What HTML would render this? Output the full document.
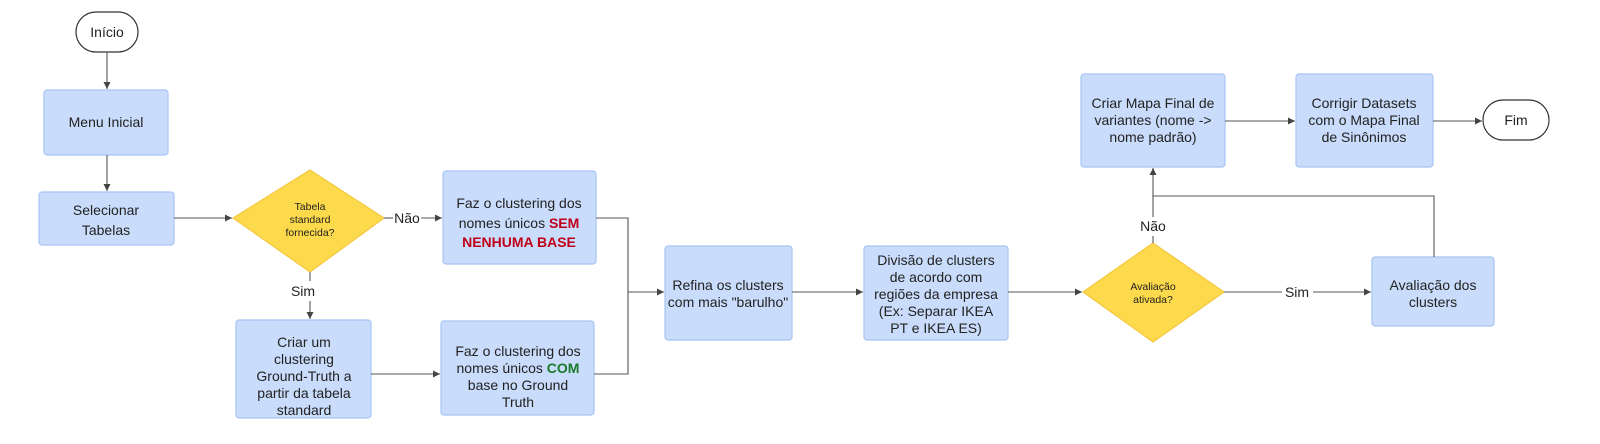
<!DOCTYPE html>
<html><head><meta charset="utf-8"><style>
body{margin:0;background:#fff;width:1600px;height:439px;overflow:hidden;font-family:"Liberation Sans",sans-serif;}
</style></head><body>
<svg width="1600" height="439" viewBox="0 0 1600 439" xmlns="http://www.w3.org/2000/svg" font-family="Liberation Sans, sans-serif" font-size="14" fill="#222">
<defs><marker id="a" markerWidth="8" markerHeight="8" refX="7" refY="4" orient="auto" markerUnits="userSpaceOnUse"><path d="M0,0.5 L7,4 L0,7.5 z" fill="#444"/></marker></defs>
<g fill="#c9dcfb" stroke="#a8c4f3" stroke-width="1.2">
<rect x="44" y="90" width="124" height="65" rx="3"/>
<rect x="39" y="192" width="135" height="53" rx="3"/>
<rect x="443" y="171" width="153" height="93" rx="3"/>
<rect x="236" y="320" width="135" height="98" rx="3"/>
<rect x="441" y="321" width="153" height="94" rx="3"/>
<rect x="665" y="246" width="127" height="94" rx="3"/>
<rect x="864" y="246" width="144" height="94" rx="3"/>
<rect x="1372" y="257" width="122" height="69" rx="3"/>
<rect x="1081" y="74" width="144" height="93" rx="3"/>
<rect x="1296" y="74" width="137" height="93" rx="3"/>
</g>
<g fill="#fdd94c" stroke="#f5c842" stroke-width="1.2">
<polygon points="310,170 384,218 310,272 233,218"/>
<polygon points="1153,243 1224,292 1153,342 1083,292"/>
</g>
<g fill="#fff" stroke="#333" stroke-width="1.2">
<rect x="76" y="12" width="62" height="40" rx="20"/>
<rect x="1483" y="100" width="66" height="40" rx="20"/>
</g>
<g stroke="#555" stroke-width="1.1" fill="none">
<line x1="107" y1="52" x2="107" y2="89" marker-end="url(#a)"/>
<line x1="107" y1="155" x2="107" y2="191" marker-end="url(#a)"/>
<line x1="174" y1="218" x2="232" y2="218" marker-end="url(#a)"/>
<line x1="384" y1="218" x2="393" y2="218"/>
<line x1="421" y1="218" x2="442" y2="218" marker-end="url(#a)"/>
<line x1="310" y1="272" x2="310" y2="281"/>
<line x1="310" y1="301" x2="310" y2="319" marker-end="url(#a)"/>
<line x1="371" y1="374" x2="440" y2="374" marker-end="url(#a)"/>
<polyline points="596,218 628,218 628,374 594,374"/>
<line x1="628" y1="292" x2="664" y2="292" marker-end="url(#a)"/>
<line x1="792" y1="292" x2="863" y2="292" marker-end="url(#a)"/>
<line x1="1008" y1="292" x2="1082" y2="292" marker-end="url(#a)"/>
<line x1="1224" y1="292" x2="1282" y2="292"/>
<line x1="1313" y1="292" x2="1371" y2="292" marker-end="url(#a)"/>
<line x1="1153" y1="243" x2="1153" y2="236"/>
<line x1="1153" y1="217" x2="1153" y2="168" marker-end="url(#a)"/>
<polyline points="1434,257 1434,196 1153,196"/>
<line x1="1225" y1="121" x2="1295" y2="121" marker-end="url(#a)"/>
<line x1="1433" y1="121" x2="1482" y2="121" marker-end="url(#a)"/>
</g>
<g text-anchor="middle">
<text x="107" y="37">Início</text>
<text x="106" y="127">Menu Inicial</text>
<text x="106" y="215">Selecionar</text><text x="106" y="235">Tabelas</text>
<text x="310" y="210" font-size="10.5">Tabela</text><text x="310" y="223" font-size="10.5">standard</text><text x="310" y="236" font-size="10.5">fornecida?</text>
<text x="407" y="223">Não</text>
<text x="303" y="296">Sim</text>
<text x="519" y="208">Faz o clustering dos</text>
<text x="519" y="228">nomes únicos <tspan fill="#c00018" font-weight="bold">SEM</tspan></text>
<text x="519" y="247" fill="#c00018" font-weight="bold">NENHUMA BASE</text>
<text x="304" y="347">Criar um</text><text x="304" y="364">clustering</text><text x="304" y="381">Ground-Truth a</text><text x="304" y="398">partir da tabela</text><text x="304" y="415">standard</text>
<text x="518" y="356">Faz o clustering dos</text>
<text x="518" y="373">nomes únicos <tspan fill="#1a7a2a" font-weight="bold">COM</tspan></text>
<text x="518" y="390">base no Ground</text><text x="518" y="407">Truth</text>
<text x="728" y="290">Refina os clusters</text><text x="728" y="307">com mais "barulho"</text>
<text x="936" y="265">Divisão de clusters</text><text x="936" y="282">de acordo com</text><text x="936" y="299">regiões da empresa</text><text x="936" y="316">(Ex: Separar IKEA</text><text x="936" y="333">PT e IKEA ES)</text>
<text x="1153" y="290" font-size="10.5">Avaliação</text><text x="1153" y="303" font-size="10.5">ativada?</text>
<text x="1297" y="297">Sim</text>
<text x="1153" y="231">Não</text>
<text x="1433" y="290">Avaliação dos</text><text x="1433" y="307">clusters</text>
<text x="1153" y="108">Criar Mapa Final de</text><text x="1153" y="125">variantes (nome -&gt;</text><text x="1153" y="142">nome padrão)</text>
<text x="1364" y="108">Corrigir Datasets</text><text x="1364" y="125">com o Mapa Final</text><text x="1364" y="142">de Sinônimos</text>
<text x="1516" y="125">Fim</text>
</g>
</svg>
</body></html>
